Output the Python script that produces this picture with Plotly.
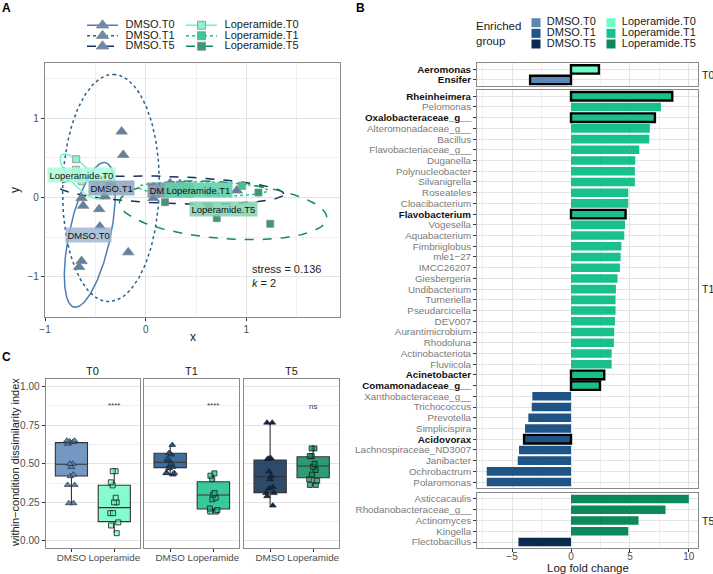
import numpy as np
import plotly.graph_objects as go

W, H = 713, 574
FONT = "Liberation Sans, Arial, Helvetica, sans-serif"


def fx(p):
    return p / W


def fy(p):
    return 1 - p / H


# ---------------- shared groups / colours ----------------
groups = ["DMSO.T0", "DMSO.T1", "DMSO.T5", "Loperamide.T0", "Loperamide.T1", "Loperamide.T5"]
group_colors = ["#5b87b8", "#1f5487", "#0a2a50", "#6ffcc4", "#18c08c", "#0a8a5a"]
ellipse_colors = ["#4a7db5", "#2a5f8f", "#14325a", "#6ff5c5", "#20c090", "#108a5d"]
ellipse_dash = ["solid", "dot", "dash", "solid", "dot", "dash"]
point_fill = ["#64809f", "#64809f", "#64809f", "#8ef3cc", "#3cc99a", "#3a9a78"]
label_bg = ["rgba(160,185,212,0.85)", "rgba(140,165,192,0.85)", "rgba(120,140,165,0.85)",
            "rgba(170,250,218,0.85)", "rgba(100,208,168,0.9)", "rgba(130,210,175,0.85)"]

# ---------------- Panel A : NMDS ----------------
nmds_x = [
    [-0.637, -0.621, -0.462, -0.455, -0.637, -0.661, -0.405],
    [-0.239, -0.223, -0.173, -0.355],
    [0.076, 0.242, 0.340, 0.905],
    [-0.690, -0.693, -0.637],
    [0.341, 0.400, 0.620, 0.955],
    [0.192, 0.630, 0.706, 1.120, 1.237],
]
nmds_y = [
    [-0.008, -0.104, -0.146, -0.365, -0.800, -0.875, 0.013],
    [0.830, 0.537, -0.690, 0.180],
    [-0.008, 0.180, 0.170, 0.088],
    [0.483, 0.350, 0.205],
    [0.160, 0.120, 0.063, 0.147],
    [-0.058, -0.113, -0.260, 0.063, -0.331],
]
# ellipse parameters: centre and two conjugate semi-axis vectors
ell_cx = [-0.555, -0.345, 0.25, -0.645, 0.57, 0.77]
ell_cy = [-0.47, 0.12, 0.095, 0.265, 0.11, -0.16]
ell_ax = [0.155, 0.025, 1.12, 0.19, 0.64, 1.03]
ell_ay = [0.91, 1.43, -0.05, -0.27, -0.02, -0.085]
ell_bx = [0.20, 0.48, 0.0, 0.074, 0.0, -0.03]
ell_by = [-0.055, -0.01, 0.17, 0.083, 0.09, 0.36]
label_x = [-0.57, -0.338, 0.25, -0.637, 0.524, 0.773]
label_y = [-0.47, 0.117, 0.09, 0.285, 0.096, -0.147]
label_order = [0, 3, 1, 2, 5, 4]
stress_text = "stress = 0.136"
k_text = "<i>k</i> = 2"

# ---------------- Panel B : log fold change ----------------
t0_taxa = ["Aeromonas", "Ensifer"]
t0_lfc = [2.37, -3.47]
t0_group = ["Loperamide.T0", "DMSO.T0"]

t1_taxa = ["Rheinheimera", "Pelomonas", "Oxalobacteraceae_g__", "Alteromonadaceae_g__", "Bacillus",
           "Flavobacteriaceae_g__", "Duganella", "Polynucleobacter", "Silvanigrella", "Roseateles",
           "Cloacibacterium", "Flavobacterium", "Vogesella", "Aquabacterium", "Fimbriiglobus",
           "mle1−27", "IMCC26207", "Giesbergeria", "Undibacterium", "Turneriella", "Pseudarcicella",
           "DEV007", "Aurantimicrobium", "Rhodoluna", "Actinobacteriota", "Fluviicola",
           "Acinetobacter", "Comamonadaceae_g__", "Xanthobacteraceae_g__", "Trichococcus",
           "Prevotella", "Simplicispira", "Acidovorax", "Lachnospiraceae_ND3007", "Janibacter",
           "Ochrobactrum", "Polaromonas"]
t1_lfc = [8.59, 7.63, 7.12, 6.69, 6.64, 5.79, 5.45, 5.42, 5.42, 4.86, 4.86, 4.63, 4.58, 4.52,
          4.27, 4.21, 4.15, 3.95, 3.81, 3.78, 3.78, 3.73, 3.67, 3.64, 3.45, 3.45, 2.82, 2.46,
          -3.28, -3.33, -3.62, -3.90, -3.98, -4.41, -4.52, -7.15, -7.15]
t1_group = ["Loperamide.T1"] * 28 + ["DMSO.T1"] * 9

t5_taxa = ["Asticcacaulis", "Rhodanobacteraceae_g__", "Actinomyces", "Kingella", "Flectobacillus"]
t5_lfc = [10.0, 8.02, 5.73, 4.86, -4.46]
t5_group = ["Loperamide.T5"] * 4 + ["DMSO.T5"]

highlighted = ["Aeromonas", "Ensifer", "Rheinheimera", "Oxalobacteraceae_g__", "Flavobacterium",
               "Acinetobacter", "Comamonadaceae_g__", "Acidovorax"]
lfc_ticks = [-5, 0, 5, 10]
lfc_ticktext = ["−5", "0", "5", "10"]

# ---------------- Panel C : dissimilarity boxplots ----------------
c_facets = ["T0", "T1", "T5"]
treatments = ["DMSO", "Loperamide"]
dmso_q1 = [0.421, 0.475, 0.313]
dmso_med = [0.497, 0.510, 0.417]
dmso_q3 = [0.637, 0.568, 0.525]
dmso_lo = [0.244, 0.423, 0.229]
dmso_hi = [0.650, 0.622, 0.767]
lop_q1 = [0.125, 0.207, 0.410]
lop_med = [0.216, 0.298, 0.486]
lop_q3 = [0.361, 0.384, 0.546]
lop_lo = [0.050, 0.190, 0.363]
lop_hi = [0.452, 0.438, 0.600]
dmso_pts = [
    [0.244, 0.244, 0.363, 0.363, 0.42, 0.43, 0.48, 0.50, 0.50, 0.63, 0.645, 0.65, 0.65, 0.64],
    [0.622, 0.57, 0.56, 0.53, 0.52, 0.50, 0.49, 0.48, 0.47, 0.44, 0.44, 0.43, 0.44],
    [0.767, 0.767, 0.535, 0.535, 0.53, 0.45, 0.42, 0.40, 0.35, 0.34, 0.31, 0.31, 0.29, 0.229],
]
lop_pts = [
    [0.452, 0.452, 0.38, 0.36, 0.28, 0.25, 0.25, 0.18, 0.18, 0.12, 0.10, 0.05],
    [0.438, 0.423, 0.40, 0.31, 0.30, 0.28, 0.27, 0.21, 0.20, 0.19, 0.19],
    [0.60, 0.60, 0.55, 0.55, 0.50, 0.48, 0.46, 0.43, 0.40, 0.39, 0.363, 0.363],
]
signif = ["****", "****", "ns"]
signif_y = [0.88, 0.88, 0.87]
c_ticks = [0, 0.25, 0.5, 0.75, 1.0]
c_ticktext = ["0.00", "0.25", "0.50", "0.75", "1.00"]


def rgba(hexc, a):
    h = hexc.lstrip("#")
    return "rgba(%d,%d,%d,%.2f)" % (int(h[0:2], 16), int(h[2:4], 16), int(h[4:6], 16), a)


fig = go.Figure()
GRID = "#e3e3e3"
MINOR = "#f0f0f0"
BORDER = "#8a8a8a"
TICKC = "#4d4d4d"

# ---- Panel A traces ----
t = np.linspace(0, 2 * np.pi, 240)
for i, g in enumerate(groups):
    ex = ell_cx[i] + ell_ax[i] * np.cos(t) + ell_bx[i] * np.sin(t)
    ey = ell_cy[i] + ell_ay[i] * np.cos(t) + ell_by[i] * np.sin(t)
    fig.add_trace(go.Scatter(x=ex, y=ey, mode="lines", xaxis="x", yaxis="y",
                             line=dict(color=ellipse_colors[i], dash=ellipse_dash[i], width=1.5),
                             hoverinfo="skip", showlegend=False))
for i, g in enumerate(groups):
    is_dmso = g.startswith("DMSO")
    fig.add_trace(go.Scatter(
        x=nmds_x[i], y=nmds_y[i], mode="markers", xaxis="x", yaxis="y", name=g,
        marker=dict(symbol="triangle-up" if is_dmso else "square", size=10 if is_dmso else 7,
                    color=point_fill[i], line=dict(color="#7d8894" if is_dmso else "#8a8a8a", width=0.8)),
        showlegend=False))

# ---- Panel A key (drawn on its own hidden axes) ----
timepoints = ["T0", "T1", "T5"]
for i, g in enumerate(groups):
    c = 0 if g.startswith("DMSO") else 1
    r = timepoints.index(g.split(".")[1])
    fig.add_trace(go.Scatter(x=[c, c + 0.313], y=[r, r], mode="lines", xaxis="x8", yaxis="y8",
                             line=dict(color=ellipse_colors[i], dash=ellipse_dash[i], width=1.6),
                             hoverinfo="skip", showlegend=False, cliponaxis=False))
    fig.add_trace(go.Scatter(x=[c + 0.157], y=[r], mode="markers", xaxis="x8", yaxis="y8",
                             marker=dict(symbol="triangle-up" if c == 0 else "square",
                                         size=11 if c == 0 else 8,
                                         color="#6a8ab0" if c == 0 else point_fill[i],
                                         line=dict(color="#8a8a8a", width=0.8)),
                             hoverinfo="skip", showlegend=False, cliponaxis=False))
    fig.add_trace(go.Scatter(x=[c + 0.39], y=[r], mode="text", text=[g], xaxis="x8", yaxis="y8",
                             textposition="middle right",
                             textfont=dict(size=11, color="#1a1a1a", family=FONT),
                             hoverinfo="skip", showlegend=False, cliponaxis=False))

# ---- Panel B key ----
for i, g in enumerate(groups):
    c = 0 if g.startswith("DMSO") else 1
    r = timepoints.index(g.split(".")[1])
    fig.add_trace(go.Scatter(x=[c + 0.08], y=[r], mode="markers", xaxis="x9", yaxis="y9",
                             marker=dict(symbol="square", size=9, color=group_colors[i]),
                             hoverinfo="skip", showlegend=False, cliponaxis=False))
    fig.add_trace(go.Scatter(x=[c + 0.225], y=[r], mode="text", text=[g], xaxis="x9", yaxis="y9",
                             textposition="middle right",
                             textfont=dict(size=11, color="#1a1a1a", family=FONT),
                             hoverinfo="skip", showlegend=False, cliponaxis=False))

# ---- Panel B bars ----
b_sets = [(t0_taxa, t0_lfc, t0_group, "x2", "y2"),
          (t1_taxa, t1_lfc, t1_group, "x3", "y3"),
          (t5_taxa, t5_lfc, t5_group, "x4", "y4")]
for taxa, lfc, grp, xa, ya in b_sets:
    cols = [group_colors[groups.index(g)] for g in grp]
    lw = [2.4 if tx in highlighted else 0 for tx in taxa]
    fig.add_trace(go.Bar(y=taxa, x=lfc, orientation="h", xaxis=xa, yaxis=ya, width=0.8,
                         marker=dict(color=cols, line=dict(color="black", width=lw)),
                         showlegend=False))

# ---- Panel C boxes ----
for k, fct in enumerate(c_facets):
    xa, ya = "x%d" % (5 + k), "y%d" % (5 + k)
    dcol = group_colors[groups.index("DMSO." + fct)]
    lcol = group_colors[groups.index("Loperamide." + fct)]
    fig.add_trace(go.Box(x=["DMSO"], q1=[dmso_q1[k]], median=[dmso_med[k]], q3=[dmso_q3[k]],
                         lowerfence=[dmso_lo[k]], upperfence=[dmso_hi[k]], xaxis=xa, yaxis=ya,
                         fillcolor=rgba(dcol, 0.85), line=dict(color="#333333", width=1.1),
                         width=0.75, whiskerwidth=0, boxpoints=False, showlegend=False))
    fig.add_trace(go.Box(x=["Loperamide"], q1=[lop_q1[k]], median=[lop_med[k]], q3=[lop_q3[k]],
                         lowerfence=[lop_lo[k]], upperfence=[lop_hi[k]], xaxis=xa, yaxis=ya,
                         fillcolor=rgba(lcol, 0.85), line=dict(color="#333333", width=1.1),
                         width=0.75, whiskerwidth=0, boxpoints=False, showlegend=False))
    fig.add_trace(go.Box(x=["DMSO"] * len(dmso_pts[k]), y=dmso_pts[k], xaxis=xa, yaxis=ya,
                         boxpoints="all", jitter=0.6, pointpos=0, width=0.4,
                         fillcolor="rgba(0,0,0,0)", line=dict(color="rgba(0,0,0,0)", width=0),
                         marker=dict(symbol="triangle-up", size=6, color=dcol,
                                     line=dict(color="#1a1a1a", width=0.6)),
                         showlegend=False, hoverinfo="y"))
    fig.add_trace(go.Box(x=["Loperamide"] * len(lop_pts[k]), y=lop_pts[k], xaxis=xa, yaxis=ya,
                         boxpoints="all", jitter=0.6, pointpos=0, width=0.4,
                         fillcolor="rgba(0,0,0,0)", line=dict(color="rgba(0,0,0,0)", width=0),
                         marker=dict(symbol="square", size=5, color=rgba(lcol, 0.7),
                                     line=dict(color="#1a1a1a", width=0.8)),
                         showlegend=False, hoverinfo="y"))

# ---------------- layout ----------------
layout = dict(template="none", width=W, height=H, margin=dict(l=0, r=0, t=0, b=0, pad=0),
              autosize=False, paper_bgcolor="white", plot_bgcolor="white", showlegend=False,
              font=dict(family=FONT, size=10, color="#1a1a1a"), bargap=0.2)


def frame_axis(**kw):
    d = dict(showline=True, linecolor=BORDER, linewidth=1.3, mirror=True, zeroline=False,
             showgrid=True, gridcolor=GRID, gridwidth=1, ticks="outside", ticklen=3,
             tickcolor="#333333", tickwidth=0.8, automargin=False, tickangle=0,
             tickfont=dict(size=10, color=TICKC, family=FONT))
    d.update(kw)
    return d


# Panel A axes
layout["xaxis"] = frame_axis(domain=[fx(45), fx(340)], anchor="y", range=[-1.0, 1.93],
                             tickvals=[-1, 0, 1], ticktext=["−1", "0", "1"],
                             minor=dict(tickvals=[-0.5, 0.5, 1.5], showgrid=True, gridcolor=MINOR,
                                        gridwidth=0.6, ticks=""))
layout["yaxis"] = frame_axis(domain=[fy(316.7), fy(63.3)], anchor="x", range=[-1.5, 1.69],
                             tickvals=[-1, 0, 1], ticktext=["−1", "0", "1"],
                             minor=dict(tickvals=[-1.5, -0.5, 0.5, 1.5], showgrid=True,
                                        gridcolor=MINOR, gridwidth=0.6, ticks=""))

# Panel B axes
b_dom = [(63.3, 86.0), (90.0, 488.3), (492.7, 548.3)]
for j, (taxa, lfc, grp, xa, ya) in enumerate(b_sets):
    n = len(taxa)
    xk = "xaxis%d" % (2 + j)
    yk = "yaxis%d" % (2 + j)
    bottom = j == 2
    layout[xk] = frame_axis(domain=[fx(476.7), fx(698.3)], anchor="y%d" % (2 + j), range=[-8.0, 10.8],
                            tickvals=lfc_ticks, ticktext=lfc_ticktext, showticklabels=bottom,
                            ticks="outside" if bottom else "", ticklabelstandoff=-4,
                            minor=dict(tickvals=[-7.5, -2.5, 2.5, 7.5], showgrid=True,
                                       gridcolor=MINOR, gridwidth=0.6, ticks=""))
    ticktext = ["<b>%s</b>" % tx if tx in highlighted else
                "<span style='color:#7a7a7a'>%s</span>" % tx for tx in taxa]
    layout[yk] = frame_axis(domain=[fy(b_dom[j][1]), fy(b_dom[j][0])], anchor="x%d" % (2 + j),
                            type="category", categoryorder="array", categoryarray=taxa,
                            range=[n - 0.42, -0.58], tickmode="array", tickvals=taxa,
                            ticktext=ticktext, ticklen=2.5,
                            tickfont=dict(size=9.8, color="#111111", family=FONT))

# Panel C axes
c_dom = [(45.7, 140.0), (144.3, 239.3), (244.3, 339.0)]
for k in range(3):
    layout["xaxis%d" % (5 + k)] = frame_axis(domain=[fx(c_dom[k][0]), fx(c_dom[k][1])],
                                             anchor="y%d" % (5 + k), type="category",
                                             categoryorder="array", categoryarray=treatments,
                                             range=[-0.6, 1.6], showgrid=False, ticklabelstandoff=-3,
                                             tickfont=dict(size=9.8, color=TICKC, family=FONT))
    layout["yaxis%d" % (5 + k)] = frame_axis(domain=[fy(548.3), fy(379.3)], anchor="x%d" % (5 + k),
                                             range=[-0.048, 1.048], tickvals=c_ticks,
                                             ticktext=c_ticktext, showticklabels=(k == 0),
                                             ticks="outside" if k == 0 else "",
                                             minor=dict(tickvals=[0.125, 0.375, 0.625, 0.875],
                                                        showgrid=True, gridcolor=MINOR,
                                                        gridwidth=0.6, ticks=""))

# key axes
layout["xaxis8"] = dict(domain=[fx(87), fx(285)], range=[0, 2], visible=False, anchor="y8",
                        automargin=False)
layout["yaxis8"] = dict(domain=[fy(51.5), fy(20)], range=[2.5, -0.5], visible=False, anchor="x8",
                        automargin=False)
layout["xaxis9"] = dict(domain=[fx(530), fx(680)], range=[0, 2], visible=False, anchor="y9",
                        automargin=False)
layout["yaxis9"] = dict(domain=[fy(49.3), fy(17.4)], range=[2.5, -0.5], visible=False, anchor="x9",
                        automargin=False)


def paper_text(text, px, py, size, xanchor="center", yanchor="middle", angle=0, color="#1a1a1a",
               align="center"):
    return dict(text=text, x=fx(px), y=fy(py), xref="paper", yref="paper", showarrow=False,
                xanchor=xanchor, yanchor=yanchor, textangle=angle, align=align,
                font=dict(size=size, color=color, family=FONT))


ann = []
# panel letters
for letter, (px, py) in zip(["A", "B", "C"], [(6, 8), (360, 8), (6, 357)]):
    ann.append(paper_text("<b>%s</b>" % letter, px, py, 12, color="black"))
# Panel A group labels
for i in label_order:
    ann.append(dict(text=groups[i], x=label_x[i], y=label_y[i], xref="x", yref="y", showarrow=False,
                    xanchor="center", yanchor="middle",
                    bgcolor=label_bg[i], borderpad=1.5, font=dict(size=9.5, color="#111111", family=FONT)))
ann.append(dict(text=stress_text, x=1.04, y=-0.9, xref="x", yref="y", xanchor="left", yanchor="middle",
                showarrow=False, font=dict(size=11, color="#222222", family=FONT)))
ann.append(dict(text=k_text, x=1.04, y=-1.08, xref="x", yref="y", xanchor="left", yanchor="middle",
                showarrow=False, font=dict(size=11, color="#222222", family=FONT)))
# axis titles
ann.append(paper_text("x", 193, 337, 12))
ann.append(paper_text("y", 15, 190, 12, angle=-90))
ann.append(paper_text("Log fold change", 587.5, 567.5, 11.5))
ann.append(paper_text("within−condition dissimilarity index", 15, 463, 11, angle=-90))
# Panel B legend title and facet strips
ann.append(paper_text("Enriched<br>group", 474, 34, 11.5, xanchor="left", align="left"))
for j, (a, b) in enumerate(b_dom):
    ann.append(paper_text(["T0", "T1", "T5"][j], 700, (a + b) / 2, 10.5, xanchor="left"))
# Panel C strips and significance
for k in range(3):
    ann.append(paper_text(c_facets[k], (c_dom[k][0] + c_dom[k][1]) / 2, 371, 11))
    ann.append(dict(text=signif[k], x=1, y=signif_y[k], xref="x%d" % (5 + k), yref="y%d" % (5 + k),
                    xanchor="center", yanchor="middle",
                    showarrow=False, font=dict(size=8, color="#333333", family=FONT)))
layout["annotations"] = ann

fig.update_layout(**layout)
fig.write_html(
    "out.html",
    config={"displayModeBar": False, "responsive": False},
    post_script="document.body.style.margin='0px';document.body.style.padding='0px';"
                "document.body.style.overflow='hidden';",
)
